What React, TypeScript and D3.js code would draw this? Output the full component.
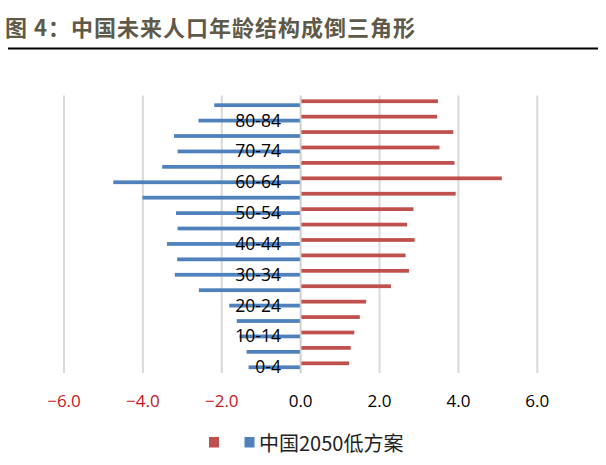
import React from "react";
import * as d3 from "d3";

const categories = ["0-4","5-9","10-14","15-19","20-24","25-29","30-34","35-39","40-44","45-49","50-54","55-59","60-64","65-69","70-74","75-79","80-84","85+"];
const blueValues = [-1.32,-1.37,-1.55,-1.62,-1.81,-2.58,-3.19,-3.13,-3.39,-3.12,-3.16,-4.01,-4.75,-3.51,-3.12,-3.21,-2.59,-2.19];
const redValues = [1.23,1.27,1.36,1.50,1.66,2.29,2.75,2.66,2.89,2.70,2.86,3.93,5.10,3.90,3.52,3.87,3.46,3.48];
const xTicks = [-6, -4, -2, 0, 2, 4, 6];
const titleText = "图 4：中国未来人口年龄结构成倒三角形";
const legendLabel = "中国2050低方案";

const W = 606, H = 465;

export default function App() {
  const x = d3.scaleLinear().domain([-6, 6]).range([64, 537.3]);
  const y = d3.scaleBand<string>().domain([...categories].reverse()).range([95.5, 373]).paddingInner(0).paddingOuter(0);
  const series = d3.scaleBand<string>().domain(["red", "blue"]).range([0, y.bandwidth()]).paddingInner(0.05).paddingOuter(0.98);
  const barH = series.bandwidth();
  const latin = "'Open Sans', 'Noto Sans', sans-serif";
  const cjk = "'Noto Sans CJK SC', sans-serif";
  return (
    <div style={{ position: "absolute", left: 0, top: 0 }}>
      <svg width={W} height={H} style={{ display: "block", background: "#fff" }}>
        <text x={5} y={36} fontFamily={cjk} fontWeight={700} fontSize={22} letterSpacing={1} fill="#5e5948">{titleText}</text>
        <line x1={8} x2={598} y1={48.5} y2={48.5} stroke="#000" strokeWidth={2.2} />
        {xTicks.map(t => (
          <line key={"g" + t} x1={x(t)} x2={x(t)} y1={95.5} y2={373} stroke={t === 0 ? "#cfcfcf" : "#d9d9d9"} strokeWidth={2} />
        ))}
        {categories.map((c, i) => (
          <g key={c}>
            <rect x={x(0) + 0.8} y={(y(c) as number) + (series("red") as number)} width={x(redValues[i]) - x(0) - 0.8} height={barH} fill="#c0504d" />
            <rect x={x(blueValues[i])} y={(y(c) as number) + (series("blue") as number)} width={x(0) - x(blueValues[i]) - 0.8} height={barH} fill="#4f81bd" />
          </g>
        ))}
        {categories.map((c, i) => i % 2 === 0 ? (
          <text key={"l" + c} x={281} y={(y(c) as number) + y.bandwidth() / 2 + 1} textAnchor="end" dominantBaseline="central" fontFamily={latin} fontSize={17.5} fill="#000">{c}</text>
        ) : null)}
        {xTicks.map(t => (
          <text key={"t" + t} x={x(t)} y={400} textAnchor="middle" dominantBaseline="central" fontFamily={latin} fontSize={17} fill={t < 0 ? "#c4161c" : "#000"}>{d3.format(".1f")(t)}</text>
        ))}
        <rect x={209} y={437} width={10} height={10.5} fill="#c0504d" />
        <rect x={244.5} y={437} width={10} height={10.5} fill="#4f81bd" />
        <text x={259} y={442} dominantBaseline="central" fontFamily={cjk} fontSize={20} fill="#222">{legendLabel}</text>
      </svg>
    </div>
  );
}
